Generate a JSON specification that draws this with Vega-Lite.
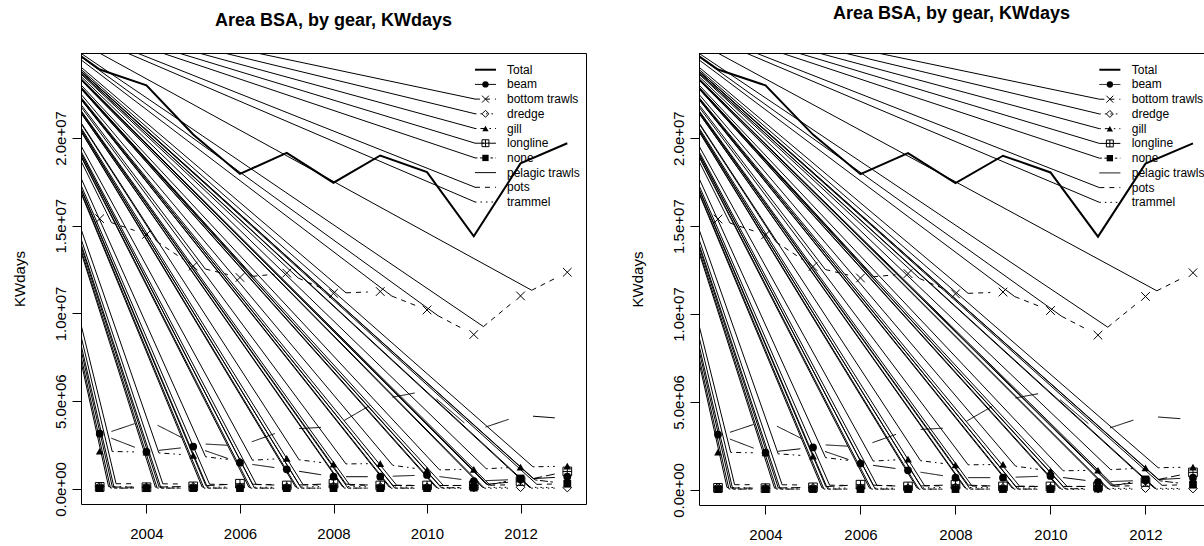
{
"$schema": "https://vega.github.io/schema/vega-lite/v6.json",
"background": "white",
"padding": {"left": 11, "top": 4, "right": 0, "bottom": 0},
"spacing": 42,
"config": {
 "view": {"stroke": "black", "strokeWidth": 1},
 "font": "Liberation Sans",
 "axis": {"grid": false, "domain": false, "tickColor": "black", "tickSize": 9, "labelColor": "black", "labelFontSize": 15, "labelFont": "Liberation Sans", "titleFont": "Liberation Sans", "titleFontSize": 15, "titleFontWeight": "normal", "titleColor": "black", "labelFlush": false, "labelOverlap": false},
 "title": {"font": "Liberation Sans", "fontSize": 18, "fontWeight": "bold", "color": "black", "anchor": "middle", "frame": "group"}
},
"datasets": {
 "pts": [
  {"gear":"Total","year":2003,"v":23900000},{"gear":"Total","year":2004,"v":23000000},{"gear":"Total","year":2005,"v":20200000},{"gear":"Total","year":2006,"v":17950000},{"gear":"Total","year":2007,"v":19150000},{"gear":"Total","year":2008,"v":17450000},{"gear":"Total","year":2009,"v":19000000},{"gear":"Total","year":2010,"v":18050000},{"gear":"Total","year":2011,"v":14400000},{"gear":"Total","year":2012,"v":18550000},{"gear":"Total","year":2013,"v":19700000},
  {"gear":"beam","year":2003,"v":3150000},{"gear":"beam","year":2004,"v":2120000},{"gear":"beam","year":2005,"v":2420000},{"gear":"beam","year":2006,"v":1500000},{"gear":"beam","year":2007,"v":1120000},{"gear":"beam","year":2008,"v":700000},{"gear":"beam","year":2009,"v":700000},{"gear":"beam","year":2010,"v":800000},{"gear":"beam","year":2011,"v":450000},{"gear":"beam","year":2012,"v":550000},{"gear":"beam","year":2013,"v":700000},
  {"gear":"bottom trawls","year":2003,"v":15400000},{"gear":"bottom trawls","year":2004,"v":14500000},{"gear":"bottom trawls","year":2005,"v":12700000},{"gear":"bottom trawls","year":2006,"v":12050000},{"gear":"bottom trawls","year":2007,"v":12300000},{"gear":"bottom trawls","year":2008,"v":11150000},{"gear":"bottom trawls","year":2009,"v":11250000},{"gear":"bottom trawls","year":2010,"v":10200000},{"gear":"bottom trawls","year":2011,"v":8800000},{"gear":"bottom trawls","year":2012,"v":11000000},{"gear":"bottom trawls","year":2013,"v":12350000},
  {"gear":"dredge","year":2003,"v":150000},{"gear":"dredge","year":2004,"v":100000},{"gear":"dredge","year":2005,"v":120000},{"gear":"dredge","year":2006,"v":100000},{"gear":"dredge","year":2007,"v":100000},{"gear":"dredge","year":2008,"v":150000},{"gear":"dredge","year":2009,"v":120000},{"gear":"dredge","year":2010,"v":100000},{"gear":"dredge","year":2011,"v":80000},{"gear":"dredge","year":2012,"v":100000},{"gear":"dredge","year":2013,"v":80000},
  {"gear":"gill","year":2003,"v":2150000},{"gear":"gill","year":2004,"v":2100000},{"gear":"gill","year":2005,"v":1920000},{"gear":"gill","year":2006,"v":1600000},{"gear":"gill","year":2007,"v":1750000},{"gear":"gill","year":2008,"v":1420000},{"gear":"gill","year":2009,"v":1450000},{"gear":"gill","year":2010,"v":1080000},{"gear":"gill","year":2011,"v":1120000},{"gear":"gill","year":2012,"v":1250000},{"gear":"gill","year":2013,"v":1300000},
  {"gear":"longline","year":2003,"v":120000},{"gear":"longline","year":2004,"v":100000},{"gear":"longline","year":2005,"v":150000},{"gear":"longline","year":2006,"v":300000},{"gear":"longline","year":2007,"v":200000},{"gear":"longline","year":2008,"v":300000},{"gear":"longline","year":2009,"v":200000},{"gear":"longline","year":2010,"v":200000},{"gear":"longline","year":2011,"v":200000},{"gear":"longline","year":2012,"v":450000},{"gear":"longline","year":2013,"v":1000000},
  {"gear":"none","year":2003,"v":50000},{"gear":"none","year":2004,"v":50000},{"gear":"none","year":2005,"v":50000},{"gear":"none","year":2006,"v":50000},{"gear":"none","year":2007,"v":50000},{"gear":"none","year":2008,"v":50000},{"gear":"none","year":2009,"v":50000},{"gear":"none","year":2010,"v":50000},{"gear":"none","year":2011,"v":80000},{"gear":"none","year":2012,"v":600000},{"gear":"none","year":2013,"v":300000},
  {"gear":"pelagic trawls","year":2003,"v":3050000},{"gear":"pelagic trawls","year":2004,"v":3950000},{"gear":"pelagic trawls","year":2005,"v":2600000},{"gear":"pelagic trawls","year":2006,"v":2450000},{"gear":"pelagic trawls","year":2007,"v":3400000},{"gear":"pelagic trawls","year":2008,"v":3550000},{"gear":"pelagic trawls","year":2009,"v":5100000},{"gear":"pelagic trawls","year":2010,"v":5600000},{"gear":"pelagic trawls","year":2011,"v":3300000},{"gear":"pelagic trawls","year":2012,"v":4200000},{"gear":"pelagic trawls","year":2013,"v":4000000},
  {"gear":"pots","year":2003,"v":300000},{"gear":"pots","year":2004,"v":300000},{"gear":"pots","year":2005,"v":280000},{"gear":"pots","year":2006,"v":250000},{"gear":"pots","year":2007,"v":250000},{"gear":"pots","year":2008,"v":220000},{"gear":"pots","year":2009,"v":220000},{"gear":"pots","year":2010,"v":200000},{"gear":"pots","year":2011,"v":200000},{"gear":"pots","year":2012,"v":250000},{"gear":"pots","year":2013,"v":300000},
  {"gear":"trammel","year":2003,"v":60000},{"gear":"trammel","year":2004,"v":50000},{"gear":"trammel","year":2005,"v":50000},{"gear":"trammel","year":2006,"v":50000},{"gear":"trammel","year":2007,"v":40000},{"gear":"trammel","year":2008,"v":50000},{"gear":"trammel","year":2009,"v":50000},{"gear":"trammel","year":2010,"v":40000},{"gear":"trammel","year":2011,"v":40000},{"gear":"trammel","year":2012,"v":50000},{"gear":"trammel","year":2013,"v":50000}
 ],
 "segs": [
  {"gear":"beam","xs":2003.249,"ys":2894000,"xe":2003.751,"ye":2376000},{"gear":"beam","xs":2004.266,"ys":2200000,"xe":2004.734,"ye":2340000},{"gear":"beam","xs":2005.253,"ys":2187000,"xe":2005.747,"ye":1733000},{"gear":"beam","xs":2006.265,"ys":1399000,"xe":2006.735,"ye":1221000},{"gear":"beam","xs":2007.264,"ys":1009000,"xe":2007.736,"ye":811000},{"gear":"beam","xs":2008.267,"ys":700000,"xe":2008.733,"ye":700000},{"gear":"beam","xs":2009.267,"ys":727000,"xe":2009.733,"ye":773000},{"gear":"beam","xs":2010.265,"ys":707000,"xe":2010.735,"ye":543000},{"gear":"beam","xs":2011.267,"ys":477000,"xe":2011.733,"ye":523000},{"gear":"beam","xs":2012.267,"ys":590000,"xe":2012.733,"ye":660000},
  {"gear":"bottom trawls","xs":2003.253,"ys":15172000,"xe":2003.747,"ye":14728000},{"gear":"bottom trawls","xs":2004.222,"ys":14101000,"xe":2004.778,"ye":13099000},{"gear":"bottom trawls","xs":2005.26,"ys":12531000,"xe":2005.74,"ye":12219000},{"gear":"bottom trawls","xs":2006.266,"ys":12117000,"xe":2006.734,"ye":12233000},{"gear":"bottom trawls","xs":2007.245,"ys":12018000,"xe":2007.755,"ye":11432000},{"gear":"bottom trawls","xs":2008.267,"ys":11177000,"xe":2008.733,"ye":11223000},{"gear":"bottom trawls","xs":2009.249,"ys":10989000,"xe":2009.751,"ye":10461000},{"gear":"bottom trawls","xs":2010.237,"ys":9869000,"xe":2010.763,"ye":9131000},{"gear":"bottom trawls","xs":2011.206,"ys":9253000,"xe":2011.794,"ye":10547000},{"gear":"bottom trawls","xs":2012.239,"ys":11322000,"xe":2012.761,"ye":12028000},
  {"gear":"dredge","xs":2003.19,"ys":137000,"xe":2003.733,"ye":113000},{"gear":"dredge","xs":2004.19,"ys":105000,"xe":2004.733,"ye":115000},{"gear":"dredge","xs":2005.19,"ys":115000,"xe":2005.733,"ye":105000},{"gear":"dredge","xs":2006.19,"ys":100000,"xe":2006.733,"ye":100000},{"gear":"dredge","xs":2007.19,"ys":113000,"xe":2007.733,"ye":137000},{"gear":"dredge","xs":2008.19,"ys":142000,"xe":2008.733,"ye":128000},{"gear":"dredge","xs":2009.19,"ys":115000,"xe":2009.733,"ye":105000},{"gear":"dredge","xs":2010.19,"ys":95000,"xe":2010.733,"ye":85000},{"gear":"dredge","xs":2011.19,"ys":85000,"xe":2011.733,"ye":95000},{"gear":"dredge","xs":2012.19,"ys":95000,"xe":2012.733,"ye":85000},
  {"gear":"gill","xs":2003.267,"ys":2137000,"xe":2003.733,"ye":2113000},{"gear":"gill","xs":2004.267,"ys":2052000,"xe":2004.733,"ye":1968000},{"gear":"gill","xs":2005.265,"ys":1835000,"xe":2005.735,"ye":1685000},{"gear":"gill","xs":2006.267,"ys":1640000,"xe":2006.733,"ye":1710000},{"gear":"gill","xs":2007.265,"ys":1662000,"xe":2007.735,"ye":1508000},{"gear":"gill","xs":2008.267,"ys":1428000,"xe":2008.733,"ye":1442000},{"gear":"gill","xs":2009.265,"ys":1352000,"xe":2009.735,"ye":1178000},{"gear":"gill","xs":2010.267,"ys":1091000,"xe":2010.733,"ye":1109000},{"gear":"gill","xs":2011.267,"ys":1155000,"xe":2011.733,"ye":1215000},{"gear":"gill","xs":2012.267,"ys":1263000,"xe":2012.733,"ye":1287000},
  {"gear":"longline","xs":2003.27,"ys":115000,"xe":2003.733,"ye":105000},{"gear":"longline","xs":2004.27,"ys":113000,"xe":2004.733,"ye":137000},{"gear":"longline","xs":2005.27,"ys":190000,"xe":2005.733,"ye":260000},{"gear":"longline","xs":2006.27,"ys":273000,"xe":2006.733,"ye":227000},{"gear":"longline","xs":2007.27,"ys":227000,"xe":2007.733,"ye":273000},{"gear":"longline","xs":2008.27,"ys":273000,"xe":2008.733,"ye":227000},{"gear":"longline","xs":2009.27,"ys":200000,"xe":2009.733,"ye":200000},{"gear":"longline","xs":2010.27,"ys":200000,"xe":2010.733,"ye":200000},{"gear":"longline","xs":2011.27,"ys":267000,"xe":2011.733,"ye":383000},{"gear":"longline","xs":2012.27,"ys":594000,"xe":2012.738,"ye":856000},
  {"gear":"none","xs":2003.31,"ys":50000,"xe":2003.733,"ye":50000},{"gear":"none","xs":2004.31,"ys":50000,"xe":2004.733,"ye":50000},{"gear":"none","xs":2005.31,"ys":50000,"xe":2005.733,"ye":50000},{"gear":"none","xs":2006.31,"ys":50000,"xe":2006.733,"ye":50000},{"gear":"none","xs":2007.31,"ys":50000,"xe":2007.733,"ye":50000},{"gear":"none","xs":2008.31,"ys":50000,"xe":2008.733,"ye":50000},{"gear":"none","xs":2009.31,"ys":50000,"xe":2009.733,"ye":50000},{"gear":"none","xs":2010.31,"ys":58000,"xe":2010.733,"ye":72000},{"gear":"none","xs":2011.31,"ys":216000,"xe":2011.738,"ye":464000},{"gear":"none","xs":2012.31,"ys":520000,"xe":2012.734,"ye":380000},
  {"gear":"pelagic trawls","xs":2003.253,"ys":3278000,"xe":2003.747,"ye":3722000},{"gear":"pelagic trawls","xs":2004.239,"ys":3628000,"xe":2004.761,"ye":2922000},{"gear":"pelagic trawls","xs":2005.267,"ys":2560000,"xe":2005.733,"ye":2490000},{"gear":"pelagic trawls","xs":2006.252,"ys":2689000,"xe":2006.748,"ye":3161000},{"gear":"pelagic trawls","xs":2007.267,"ys":3440000,"xe":2007.733,"ye":3510000},{"gear":"pelagic trawls","xs":2008.231,"ys":3908000,"xe":2008.769,"ye":4742000},{"gear":"pelagic trawls","xs":2009.263,"ys":5231000,"xe":2009.737,"ye":5469000},{"gear":"pelagic trawls","xs":2010.202,"ys":5134000,"xe":2010.798,"ye":3766000},{"gear":"pelagic trawls","xs":2011.253,"ys":3528000,"xe":2011.747,"ye":3972000},{"gear":"pelagic trawls","xs":2012.267,"ys":4147000,"xe":2012.733,"ye":4053000},
  {"gear":"pots","xs":2003.35,"ys":300000,"xe":2003.733,"ye":300000},{"gear":"pots","xs":2004.35,"ys":295000,"xe":2004.733,"ye":285000},{"gear":"pots","xs":2005.35,"ys":272000,"xe":2005.733,"ye":258000},{"gear":"pots","xs":2006.35,"ys":250000,"xe":2006.733,"ye":250000},{"gear":"pots","xs":2007.35,"ys":242000,"xe":2007.733,"ye":228000},{"gear":"pots","xs":2008.35,"ys":220000,"xe":2008.733,"ye":220000},{"gear":"pots","xs":2009.35,"ys":215000,"xe":2009.733,"ye":205000},{"gear":"pots","xs":2010.35,"ys":200000,"xe":2010.733,"ye":200000},{"gear":"pots","xs":2011.35,"ys":213000,"xe":2011.733,"ye":237000},{"gear":"pots","xs":2012.35,"ys":263000,"xe":2012.733,"ye":287000},
  {"gear":"trammel","xs":2003.23,"ys":57000,"xe":2003.733,"ye":53000},{"gear":"trammel","xs":2004.23,"ys":50000,"xe":2004.733,"ye":50000},{"gear":"trammel","xs":2005.23,"ys":50000,"xe":2005.733,"ye":50000},{"gear":"trammel","xs":2006.23,"ys":47000,"xe":2006.733,"ye":43000},{"gear":"trammel","xs":2007.23,"ys":43000,"xe":2007.733,"ye":47000},{"gear":"trammel","xs":2008.23,"ys":50000,"xe":2008.733,"ye":50000},{"gear":"trammel","xs":2009.23,"ys":47000,"xe":2009.733,"ye":43000},{"gear":"trammel","xs":2010.23,"ys":40000,"xe":2010.733,"ye":40000},{"gear":"trammel","xs":2011.23,"ys":43000,"xe":2011.733,"ye":47000},{"gear":"trammel","xs":2012.23,"ys":50000,"xe":2012.733,"ye":50000}
 ],
 "fan": [
  {"kind":"seg","x0":2000.889,"y0":27917000,"x1":2003.253,"y1":15172000},{"kind":"seg","x0":2000.889,"y0":27917000,"x1":2004.222,"y1":14101000},{"kind":"seg","x0":2000.889,"y0":27917000,"x1":2005.26,"y1":12531000},{"kind":"seg","x0":2000.889,"y0":27917000,"x1":2006.266,"y1":12117000},{"kind":"seg","x0":2000.889,"y0":27917000,"x1":2007.245,"y1":12018000},{"kind":"seg","x0":2000.889,"y0":27917000,"x1":2008.267,"y1":11177000},{"kind":"seg","x0":2000.889,"y0":27917000,"x1":2009.249,"y1":10989000},{"kind":"seg","x0":2000.889,"y0":27917000,"x1":2010.237,"y1":9869000},{"kind":"seg","x0":2000.889,"y0":27917000,"x1":2011.206,"y1":9253000},{"kind":"seg","x0":2000.889,"y0":27917000,"x1":2012.239,"y1":11322000},
  {"kind":"seg","x0":2000.889,"y0":27917000,"x1":2003.19,"y1":137000},{"kind":"seg","x0":2000.889,"y0":27917000,"x1":2004.19,"y1":105000},{"kind":"seg","x0":2000.889,"y0":27917000,"x1":2005.19,"y1":115000},{"kind":"seg","x0":2000.889,"y0":27917000,"x1":2006.19,"y1":100000},{"kind":"seg","x0":2000.889,"y0":27917000,"x1":2007.19,"y1":113000},{"kind":"seg","x0":2000.889,"y0":27917000,"x1":2008.19,"y1":142000},{"kind":"seg","x0":2000.889,"y0":27917000,"x1":2009.19,"y1":115000},{"kind":"seg","x0":2000.889,"y0":27917000,"x1":2010.19,"y1":95000},{"kind":"seg","x0":2000.889,"y0":27917000,"x1":2011.19,"y1":85000},{"kind":"seg","x0":2000.889,"y0":27917000,"x1":2012.19,"y1":95000},
  {"kind":"seg","x0":2000.889,"y0":27917000,"x1":2003.267,"y1":2137000},{"kind":"seg","x0":2000.889,"y0":27917000,"x1":2004.267,"y1":2052000},{"kind":"seg","x0":2000.889,"y0":27917000,"x1":2005.265,"y1":1835000},{"kind":"seg","x0":2000.889,"y0":27917000,"x1":2006.267,"y1":1640000},{"kind":"seg","x0":2000.889,"y0":27917000,"x1":2007.265,"y1":1662000},{"kind":"seg","x0":2000.889,"y0":27917000,"x1":2008.267,"y1":1428000},{"kind":"seg","x0":2000.889,"y0":27917000,"x1":2009.265,"y1":1352000},{"kind":"seg","x0":2000.889,"y0":27917000,"x1":2010.267,"y1":1091000},{"kind":"seg","x0":2000.889,"y0":27917000,"x1":2011.267,"y1":1155000},{"kind":"seg","x0":2000.889,"y0":27917000,"x1":2012.267,"y1":1263000},
  {"kind":"seg","x0":2000.889,"y0":27917000,"x1":2003.27,"y1":115000},{"kind":"seg","x0":2000.889,"y0":27917000,"x1":2004.27,"y1":113000},{"kind":"seg","x0":2000.889,"y0":27917000,"x1":2005.27,"y1":190000},{"kind":"seg","x0":2000.889,"y0":27917000,"x1":2006.27,"y1":273000},{"kind":"seg","x0":2000.889,"y0":27917000,"x1":2007.27,"y1":227000},{"kind":"seg","x0":2000.889,"y0":27917000,"x1":2008.27,"y1":273000},{"kind":"seg","x0":2000.889,"y0":27917000,"x1":2009.27,"y1":200000},{"kind":"seg","x0":2000.889,"y0":27917000,"x1":2010.27,"y1":200000},{"kind":"seg","x0":2000.889,"y0":27917000,"x1":2011.27,"y1":267000},{"kind":"seg","x0":2000.889,"y0":27917000,"x1":2012.27,"y1":594000},
  {"kind":"seg","x0":2000.889,"y0":27917000,"x1":2003.31,"y1":50000},{"kind":"seg","x0":2000.889,"y0":27917000,"x1":2004.31,"y1":50000},{"kind":"seg","x0":2000.889,"y0":27917000,"x1":2005.31,"y1":50000},{"kind":"seg","x0":2000.889,"y0":27917000,"x1":2006.31,"y1":50000},{"kind":"seg","x0":2000.889,"y0":27917000,"x1":2007.31,"y1":50000},{"kind":"seg","x0":2000.889,"y0":27917000,"x1":2008.31,"y1":50000},{"kind":"seg","x0":2000.889,"y0":27917000,"x1":2009.31,"y1":50000},{"kind":"seg","x0":2000.889,"y0":27917000,"x1":2010.31,"y1":58000},{"kind":"seg","x0":2000.889,"y0":27917000,"x1":2011.31,"y1":216000},{"kind":"seg","x0":2000.889,"y0":27917000,"x1":2012.31,"y1":520000},
  {"kind":"seg","x0":2000.889,"y0":27917000,"x1":2003.35,"y1":300000},{"kind":"seg","x0":2000.889,"y0":27917000,"x1":2004.35,"y1":295000},{"kind":"seg","x0":2000.889,"y0":27917000,"x1":2005.35,"y1":272000},{"kind":"seg","x0":2000.889,"y0":27917000,"x1":2006.35,"y1":250000},{"kind":"seg","x0":2000.889,"y0":27917000,"x1":2007.35,"y1":242000},{"kind":"seg","x0":2000.889,"y0":27917000,"x1":2008.35,"y1":220000},{"kind":"seg","x0":2000.889,"y0":27917000,"x1":2009.35,"y1":215000},{"kind":"seg","x0":2000.889,"y0":27917000,"x1":2010.35,"y1":200000},{"kind":"seg","x0":2000.889,"y0":27917000,"x1":2011.35,"y1":213000},{"kind":"seg","x0":2000.889,"y0":27917000,"x1":2012.35,"y1":263000},
  {"kind":"seg","x0":2000.889,"y0":27917000,"x1":2003.23,"y1":57000},{"kind":"seg","x0":2000.889,"y0":27917000,"x1":2004.23,"y1":50000},{"kind":"seg","x0":2000.889,"y0":27917000,"x1":2005.23,"y1":50000},{"kind":"seg","x0":2000.889,"y0":27917000,"x1":2006.23,"y1":47000},{"kind":"seg","x0":2000.889,"y0":27917000,"x1":2007.23,"y1":43000},{"kind":"seg","x0":2000.889,"y0":27917000,"x1":2008.23,"y1":50000},{"kind":"seg","x0":2000.889,"y0":27917000,"x1":2009.23,"y1":47000},{"kind":"seg","x0":2000.889,"y0":27917000,"x1":2010.23,"y1":40000},{"kind":"seg","x0":2000.889,"y0":27917000,"x1":2011.23,"y1":43000},{"kind":"seg","x0":2000.889,"y0":27917000,"x1":2012.23,"y1":50000},
  {"kind":"legend","x0":2000.889,"y0":27917000,"x1":2011.03,"y1":22213000},{"kind":"legend","x0":2000.889,"y0":27917000,"x1":2011.03,"y1":21376000},{"kind":"legend","x0":2000.889,"y0":27917000,"x1":2011.03,"y1":20538000},{"kind":"legend","x0":2000.889,"y0":27917000,"x1":2011.03,"y1":19700000},{"kind":"legend","x0":2000.889,"y0":27917000,"x1":2011.03,"y1":18862000},{"kind":"legend","x0":2000.889,"y0":27917000,"x1":2011.03,"y1":17188000},{"kind":"legend","x0":2000.889,"y0":27917000,"x1":2011.03,"y1":16350000},
  {"kind":"Total","x0":2000.889,"y0":27917000,"x1":2003,"y1":23900000}
 ],
 "leg": [
  {"label":"Total","ly":23888000},{"label":"beam","ly":23051000},{"label":"bottom trawls","ly":22213000},{"label":"dredge","ly":21376000},{"label":"gill","ly":20538000},{"label":"longline","ly":19700000},{"label":"none","ly":18862000},{"label":"pelagic trawls","ly":18025000},{"label":"pots","ly":17188000},{"label":"trammel","ly":16350000}
 ]
},
"hconcat": [
 {
  "width": 505, "height": 451,
  "title": {"text": "Area BSA, by gear, KWdays", "offset": 23},
  "layer": [
   {"data": {"name": "segs"},
    "mark": {"type": "rule", "clip": true, "color": "black", "strokeWidth": 1},
    "encoding": {
     "x": {"field": "xs", "type": "quantitative", "scale": {"domain": [2002.6, 2013.4], "nice": false, "zero": false}, "axis": {"values": [2004, 2006, 2008, 2010, 2012], "format": "d", "title": null, "labelPadding": 13}},
     "y": {"field": "ys", "type": "quantitative", "scale": {"domain": [-855000, 24840000], "nice": false, "zero": false}, "axis": {"values": [0, 5000000, 10000000, 15000000, 20000000], "labelExpr": "datum.value == 0 ? '0.0e+00' : datum.value == 5000000 ? '5.0e+06' : datum.value == 10000000 ? '1.0e+07' : datum.value == 15000000 ? '1.5e+07' : '2.0e+07'", "labelAngle": 270, "labelAlign": "center", "labelBaseline": "bottom", "labelPadding": 4, "title": "KWdays", "titlePadding": 26}},
     "x2": {"field": "xe"}, "y2": {"field": "ye"},
     "strokeDash": {"field": "gear", "type": "nominal", "legend": null, "scale": {"domain": ["Total","beam","bottom trawls","dredge","gill","longline","none","pelagic trawls","pots","trammel"], "range": [[1,0],[1,0],[5,5],[1.5,4],[1.5,4,5,4],[9,4],[2.5,2.5,8,2.5],[1,0],[5,5],[1.5,4]]}}}},
   {"data": {"name": "fan"}, "transform": [{"filter": "datum.kind != 'Total'"}],
    "mark": {"type": "rule", "clip": true, "color": "black", "strokeWidth": 1},
    "encoding": {"x": {"field": "x0", "type": "quantitative"}, "y": {"field": "y0", "type": "quantitative"}, "x2": {"field": "x1"}, "y2": {"field": "y1"}}},
   {"data": {"name": "fan"}, "transform": [{"filter": "datum.kind == 'Total'"}],
    "mark": {"type": "rule", "clip": true, "color": "black", "strokeWidth": 2},
    "encoding": {"x": {"field": "x0", "type": "quantitative"}, "y": {"field": "y0", "type": "quantitative"}, "x2": {"field": "x1"}, "y2": {"field": "y1"}}},
   {"data": {"name": "pts"}, "transform": [{"filter": "datum.gear == 'Total'"}],
    "mark": {"type": "line", "clip": true, "color": "black", "strokeWidth": 2},
    "encoding": {"x": {"field": "year", "type": "quantitative"}, "y": {"field": "v", "type": "quantitative"}}},
   {"data": {"name": "pts"}, "transform": [{"filter": "datum.gear == 'beam' || datum.gear == 'gill' || datum.gear == 'none'"}],
    "mark": {"type": "point", "clip": true, "filled": true, "color": "black", "opacity": 1, "size": 60},
    "encoding": {"x": {"field": "year", "type": "quantitative"}, "y": {"field": "v", "type": "quantitative"},
     "shape": {"field": "gear", "type": "nominal", "legend": null, "scale": {"domain": ["beam","bottom trawls","dredge","gill","longline","none"], "range": ["circle","M-1,-1L1,1M-1,1L1,-1","diamond","triangle-up","M-1,-1L1,-1L1,1L-1,1ZM0,-1L0,1M-1,0L1,0","square"]}}}},
   {"data": {"name": "pts"}, "transform": [{"filter": "datum.gear == 'bottom trawls' || datum.gear == 'dredge' || datum.gear == 'longline'"}],
    "mark": {"type": "point", "clip": true, "filled": false, "color": "black", "opacity": 1, "strokeWidth": 1, "size": 75},
    "encoding": {"x": {"field": "year", "type": "quantitative"}, "y": {"field": "v", "type": "quantitative"},
     "shape": {"field": "gear", "type": "nominal", "legend": null}}},
   {"data": {"name": "leg"}, "transform": [{"filter": "datum.label != 'Total'"}],
    "mark": {"type": "point", "clip": true, "filled": false, "shape": "stroke", "size": 441, "color": "black", "opacity": 1, "strokeWidth": 1},
    "encoding": {"x": {"datum": 2011.25, "type": "quantitative"}, "y": {"field": "ly", "type": "quantitative"},
     "strokeDash": {"field": "label", "type": "nominal", "legend": null}}},
   {"data": {"name": "leg"}, "transform": [{"filter": "datum.label == 'Total'"}],
    "mark": {"type": "point", "clip": true, "filled": false, "shape": "stroke", "size": 441, "color": "black", "opacity": 1, "strokeWidth": 2},
    "encoding": {"x": {"datum": 2011.25, "type": "quantitative"}, "y": {"field": "ly", "type": "quantitative"}}},
   {"data": {"name": "leg"}, "transform": [{"filter": "datum.label == 'beam' || datum.label == 'gill' || datum.label == 'none'"}],
    "mark": {"type": "point", "clip": true, "filled": true, "color": "black", "opacity": 1, "size": 40},
    "encoding": {"x": {"datum": 2011.25, "type": "quantitative"}, "y": {"field": "ly", "type": "quantitative"}, "shape": {"field": "label", "type": "nominal", "legend": null}}},
   {"data": {"name": "leg"}, "transform": [{"filter": "datum.label == 'bottom trawls' || datum.label == 'dredge' || datum.label == 'longline'"}],
    "mark": {"type": "point", "clip": true, "filled": false, "color": "black", "opacity": 1, "strokeWidth": 1, "size": 48},
    "encoding": {"x": {"datum": 2011.25, "type": "quantitative"}, "y": {"field": "ly", "type": "quantitative"}, "shape": {"field": "label", "type": "nominal", "legend": null}}},
   {"data": {"name": "leg"},
    "mark": {"type": "text", "clip": true, "color": "black", "align": "left", "baseline": "middle", "fontSize": 12, "font": "Liberation Sans"},
    "encoding": {"x": {"datum": 2011.71, "type": "quantitative"}, "y": {"field": "ly", "type": "quantitative"}, "text": {"field": "label", "type": "nominal"}}}
  ]
 },
 {
  "width": 505, "height": 452,
  "title": {"text": "Area BSA, by gear, KWdays", "offset": 30},
  "layer": [
   {"data": {"name": "segs"},
    "mark": {"type": "rule", "clip": true, "color": "black", "strokeWidth": 1},
    "encoding": {
     "x": {"field": "xs", "type": "quantitative", "scale": {"domain": [2002.6, 2013.232], "nice": false, "zero": false}, "axis": {"values": [2004, 2006, 2008, 2010, 2012], "format": "d", "title": null, "labelPadding": 13}},
     "y": {"field": "ys", "type": "quantitative", "scale": {"domain": [-855000, 24840000], "nice": false, "zero": false}, "axis": {"values": [0, 5000000, 10000000, 15000000, 20000000], "labelExpr": "datum.value == 0 ? '0.0e+00' : datum.value == 5000000 ? '5.0e+06' : datum.value == 10000000 ? '1.0e+07' : datum.value == 15000000 ? '1.5e+07' : '2.0e+07'", "labelAngle": 270, "labelAlign": "center", "labelBaseline": "bottom", "labelPadding": 4, "title": "KWdays", "titlePadding": 26}},
     "x2": {"field": "xe"}, "y2": {"field": "ye"},
     "strokeDash": {"field": "gear", "type": "nominal", "legend": null, "scale": {"domain": ["Total","beam","bottom trawls","dredge","gill","longline","none","pelagic trawls","pots","trammel"], "range": [[1,0],[1,0],[5,5],[1.5,4],[1.5,4,5,4],[9,4],[2.5,2.5,8,2.5],[1,0],[5,5],[1.5,4]]}}}},
   {"data": {"name": "fan"}, "transform": [{"filter": "datum.kind != 'Total'"}],
    "mark": {"type": "rule", "clip": true, "color": "black", "strokeWidth": 1},
    "encoding": {"x": {"field": "x0", "type": "quantitative"}, "y": {"field": "y0", "type": "quantitative"}, "x2": {"field": "x1"}, "y2": {"field": "y1"}}},
   {"data": {"name": "fan"}, "transform": [{"filter": "datum.kind == 'Total'"}],
    "mark": {"type": "rule", "clip": true, "color": "black", "strokeWidth": 2},
    "encoding": {"x": {"field": "x0", "type": "quantitative"}, "y": {"field": "y0", "type": "quantitative"}, "x2": {"field": "x1"}, "y2": {"field": "y1"}}},
   {"data": {"name": "pts"}, "transform": [{"filter": "datum.gear == 'Total'"}],
    "mark": {"type": "line", "clip": true, "color": "black", "strokeWidth": 2},
    "encoding": {"x": {"field": "year", "type": "quantitative"}, "y": {"field": "v", "type": "quantitative"}}},
   {"data": {"name": "pts"}, "transform": [{"filter": "datum.gear == 'beam' || datum.gear == 'gill' || datum.gear == 'none'"}],
    "mark": {"type": "point", "clip": true, "filled": true, "color": "black", "opacity": 1, "size": 60},
    "encoding": {"x": {"field": "year", "type": "quantitative"}, "y": {"field": "v", "type": "quantitative"},
     "shape": {"field": "gear", "type": "nominal", "legend": null, "scale": {"domain": ["beam","bottom trawls","dredge","gill","longline","none"], "range": ["circle","M-1,-1L1,1M-1,1L1,-1","diamond","triangle-up","M-1,-1L1,-1L1,1L-1,1ZM0,-1L0,1M-1,0L1,0","square"]}}}},
   {"data": {"name": "pts"}, "transform": [{"filter": "datum.gear == 'bottom trawls' || datum.gear == 'dredge' || datum.gear == 'longline'"}],
    "mark": {"type": "point", "clip": true, "filled": false, "color": "black", "opacity": 1, "strokeWidth": 1, "size": 75},
    "encoding": {"x": {"field": "year", "type": "quantitative"}, "y": {"field": "v", "type": "quantitative"},
     "shape": {"field": "gear", "type": "nominal", "legend": null}}},
   {"data": {"name": "leg"}, "transform": [{"filter": "datum.label != 'Total'"}],
    "mark": {"type": "point", "clip": true, "filled": false, "shape": "stroke", "size": 441, "color": "black", "opacity": 1, "strokeWidth": 1},
    "encoding": {"x": {"datum": 2011.25, "type": "quantitative"}, "y": {"field": "ly", "type": "quantitative"},
     "strokeDash": {"field": "label", "type": "nominal", "legend": null}}},
   {"data": {"name": "leg"}, "transform": [{"filter": "datum.label == 'Total'"}],
    "mark": {"type": "point", "clip": true, "filled": false, "shape": "stroke", "size": 441, "color": "black", "opacity": 1, "strokeWidth": 2},
    "encoding": {"x": {"datum": 2011.25, "type": "quantitative"}, "y": {"field": "ly", "type": "quantitative"}}},
   {"data": {"name": "leg"}, "transform": [{"filter": "datum.label == 'beam' || datum.label == 'gill' || datum.label == 'none'"}],
    "mark": {"type": "point", "clip": true, "filled": true, "color": "black", "opacity": 1, "size": 40},
    "encoding": {"x": {"datum": 2011.25, "type": "quantitative"}, "y": {"field": "ly", "type": "quantitative"}, "shape": {"field": "label", "type": "nominal", "legend": null}}},
   {"data": {"name": "leg"}, "transform": [{"filter": "datum.label == 'bottom trawls' || datum.label == 'dredge' || datum.label == 'longline'"}],
    "mark": {"type": "point", "clip": true, "filled": false, "color": "black", "opacity": 1, "strokeWidth": 1, "size": 48},
    "encoding": {"x": {"datum": 2011.25, "type": "quantitative"}, "y": {"field": "ly", "type": "quantitative"}, "shape": {"field": "label", "type": "nominal", "legend": null}}},
   {"data": {"name": "leg"},
    "mark": {"type": "text", "clip": true, "color": "black", "align": "left", "baseline": "middle", "fontSize": 12, "font": "Liberation Sans"},
    "encoding": {"x": {"datum": 2011.71, "type": "quantitative"}, "y": {"field": "ly", "type": "quantitative"}, "text": {"field": "label", "type": "nominal"}}}
  ]
 }
]
}
